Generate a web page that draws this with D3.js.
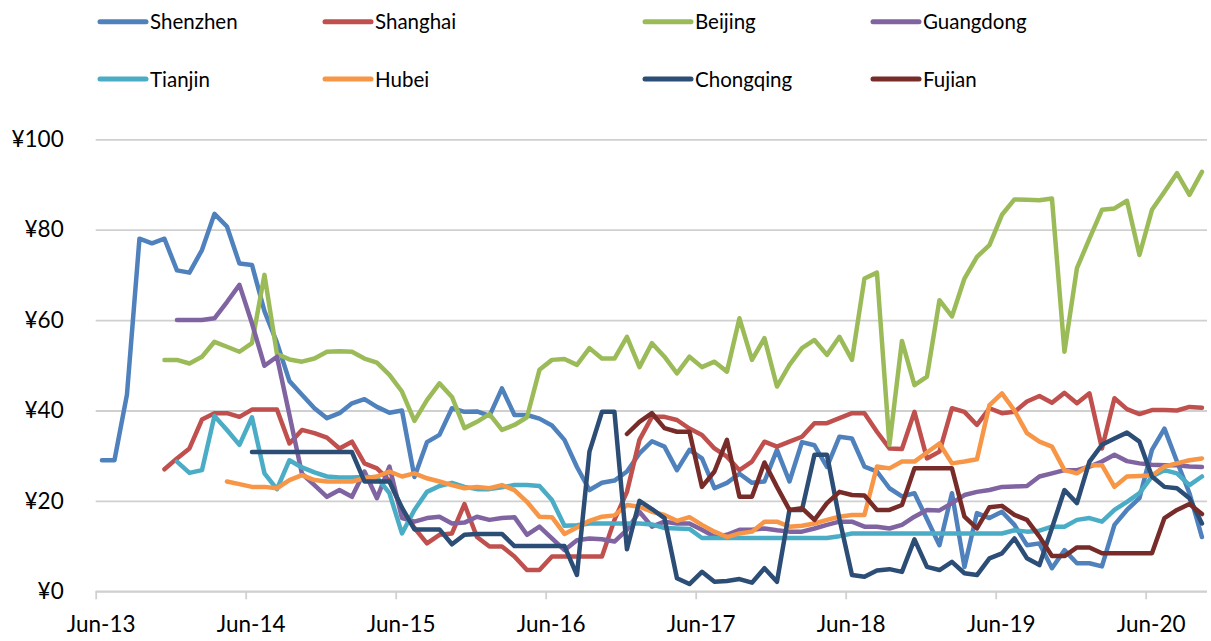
<!DOCTYPE html>
<html><head><meta charset="utf-8">
<script src="https://cdn.jsdelivr.net/npm/d3@7"></script>
<style>
body{margin:0;background:#fff}
svg{display:block}
text{font-family:Lato,"Open Sans",sans-serif;fill:#000}
</style>
</head><body>
<svg id="chart" width="1211" height="641"></svg>
<script>
const _ = null;
const seriesNames = ["Shenzhen","Shanghai","Beijing","Guangdong","Tianjin","Hubei","Chongqing","Fujian"];
const seriesColors = ["#4F81BD","#C0504D","#9BBB59","#8064A2","#4BACC6","#F79646","#2C4D75","#772C2A"];
const tickLabels = ["Jun-13","Jun-14","Jun-15","Jun-16","Jun-17","Jun-18","Jun-19","Jun-20"];
const yTicks = [0,20,40,60,80,100];
// monthly categories Jun-2013 .. Oct-2020
const months = d3.utcMonth.range(new Date(Date.UTC(2013,5,1)), new Date(Date.UTC(2020,10,1)));

const shenzhen = [29,29,43.5,78,77,78,71,70.5,75.5,83.5,
80.7,72.5,72.2,62,55,46.5,43.5,40.5,38.3,39.4,
41.6,42.5,40.8,39.5,40,25.3,33,34.6,40.5,39.7,
39.8,38.8,44.9,39,39,38.2,36.7,33.5,27.5,22.4,
24,24.5,26.5,30.5,33.2,32,26.8,31.3,29.4,22.8,
24,26,24,24.3,31.3,24.3,33,32.3,27.5,34.2,
33.8,27.6,26.5,22.8,21,21.7,16,10.2,21.7,5.4,
17.3,16.2,17.6,14.7,10.2,10.6,5.1,9.1,6.2,6.2,
5.5,14.7,18,20.6,31.3,36,28.7,21.7,12];

const shanghai = [_,_,_,_,_,27,29.4,31.6,38,39.4,
39.4,38.6,40.2,40.2,40.2,32.7,35.7,35,34,31.6,
33.1,28.3,27.2,24.5,18,14,10.6,12.5,12.8,19.3,
12,9.9,9.9,7.7,4.7,4.7,7.7,7.7,7.7,7.7,
7.7,15.8,22,33.5,38.6,38.6,37.9,36,34.6,31.6,
29.8,26.8,28.7,33.1,32,33.1,34.2,37.2,37.2,38.3,
39.4,39.4,35.3,31.6,31.5,39.7,29.4,30.9,40.5,39.7,
36.8,40.5,39.4,39.7,42,43.2,41.7,43.9,41.6,43.8,
31.6,42.7,40.3,39.2,40.1,40.1,40,40.8,40.6];

const beijing = [_,_,_,_,_,51.2,51.2,50.4,51.9,55.2,
54.1,53,54.9,70,52.5,51.3,50.8,51.5,53,53.1,
53,51.5,50.6,47.9,44.2,37.7,42.3,46,43,36.1,
37.5,39.2,35.7,36.8,38.5,49,51.2,51.4,50.1,53.8,
51.5,51.5,56.3,49.6,54.9,51.9,48.2,51.9,49.6,50.8,
48.6,60.4,51.2,56,45.3,50.1,53.8,55.6,52.3,56.3,
51.2,69.2,70.5,32.4,55.4,45.6,47.5,64.4,60.8,69.2,
74,76.6,83.3,86.7,86.6,86.5,86.9,53,71.5,78,
84.4,84.7,86.4,74.4,84.4,88.4,92.5,87.7,92.8];

const guangdong = [_,_,_,_,_,_,60,60,60,60.4,
64,67.8,59.3,49.9,51.9,39,26,23.5,20.9,22.4,
20.9,26.5,20.6,27.6,16.2,15.4,16.2,16.5,15,15.2,
16.5,15.8,16.2,16.4,12.5,14.3,11.7,9.1,11.3,11.7,
11.5,11,13.6,17.6,14.3,15.4,15,15,13.6,12.1,
12.5,13.6,13.6,13.9,13.5,13.2,13.2,13.9,14.7,15.4,
15.4,14.3,14.3,13.9,14.7,16.5,18,17.9,19.5,21.3,
22,22.4,23.1,23.2,23.3,25.4,26.1,26.8,26.8,27.6,
28.7,30.2,28.8,28.3,28,27.9,27.9,27.6,27.5];

const tianjin = [_,_,_,_,_,_,28.7,26.2,26.8,38.8,
35.7,32.4,38.5,26.1,22.6,29,27.4,26.3,25.4,25.2,
25.2,25.3,25.2,21.7,12.8,18,22,23.3,24,23.1,
22.6,22.6,23,23.5,23.5,23.3,20.2,14.5,14.6,15,
15,15,15,15,14.8,14,13.9,13.8,11.8,11.8,
11.8,11.8,11.8,11.8,11.8,11.8,11.8,11.8,11.8,12.2,
12.8,12.8,12.8,12.8,12.8,12.8,12.8,12.8,12.8,12.8,
12.8,12.8,12.8,13.5,13.2,13.4,14.3,14.3,15.8,16.2,
15.4,18,19.8,21.7,25.4,26.8,26.1,23.5,25.4];

const hubei = [_,_,_,_,_,_,_,_,_,_,
24.3,23.7,23.1,23.1,22.8,24.6,25.7,24.6,24.3,24.3,
24.3,25,25.4,26.5,25.4,26.1,25,24.3,23.5,22.8,
23.1,22.8,23.5,22.4,19.8,16.5,16.4,12.7,14.1,15.6,
16.5,16.8,19.1,18.7,17.6,16.9,15.6,16.4,14.7,13.2,
12,12.8,13.2,15.4,15.4,14.3,14.5,15,15.8,16.5,
16.9,16.9,27.6,27.2,28.7,28.7,30.7,32.7,28.3,28.7,
29.2,41.2,43.8,40,35,33.1,32,26.8,26.1,27.9,
27.9,23.1,25.4,25.5,25.6,27.6,28.3,29,29.4];

const chongqing = [_,_,_,_,_,_,_,_,_,_,
_,_,30.8,30.8,30.8,30.8,30.8,30.8,30.8,30.8,
30.8,24.3,24.3,24.3,18.5,13.7,13.7,13.7,10.4,12.5,
12.7,12.7,12.7,10,10,10,10,10,3.6,30.9,
39.7,39.7,9.3,20,18.2,16.2,2.9,1.6,4.3,2.1,
2.3,2.7,1.9,5.1,2.1,18,18,30.2,30.2,16,
3.6,3.2,4.6,4.9,4.3,11.5,5.4,4.7,6.5,4,
3.6,7.3,8.4,11.7,7.3,5.8,14,22.4,19.5,28.7,
32.4,33.8,35.1,33.1,25.4,23.1,22.8,20.6,15];

const fujian = [_,_,_,_,_,_,_,_,_,_,
_,_,_,_,_,_,_,_,_,_,
_,_,_,_,_,_,_,_,_,_,
_,_,_,_,_,_,_,_,_,_,
_,_,34.8,37.5,39.4,36.1,35.3,35.3,23.1,26.5,
33.5,20.9,20.9,28.5,23.1,18,18.4,15.8,19.5,22,
21.3,21.2,18,18,19.1,27.2,27.2,27.2,27.2,16.5,
13.9,18.6,18.9,16.9,15.8,12.1,7.8,7.8,9.7,9.7,
8.4,8.4,8.4,8.4,8.4,16.2,18,19.3,17.1];

const seriesValues = [shenzhen,shanghai,beijing,guangdong,tianjin,hubei,chongqing,fujian];

const svg = d3.select("#chart");
svg.append("rect").attr("width",1211).attr("height",641).attr("fill","#fff");

const plotLeft = 95.7, plotRight = 1208.2, plotBottom = 591.3, plotTop = 139.3;
const x = d3.scaleLinear().domain([0, months.length]).range([plotLeft, plotRight]);
const y = d3.scaleLinear().domain([0, 100]).range([plotBottom, plotTop]);

// gridlines + y labels
const yAxis = d3.axisLeft(y).tickValues(yTicks).tickSize(-(1207 - plotLeft)).tickPadding(32)
  .tickFormat(d => "¥" + d);
const gy = svg.append("g").attr("transform", `translate(${plotLeft},0)`).call(yAxis);
gy.select(".domain").remove();
gy.selectAll("line").attr("stroke", "#d0d0d0").attr("stroke-width", 1.8);
gy.selectAll("text").attr("font-size", 22.5).attr("font-family", "Lato").attr("fill","#000");

// x axis
const junIdx = tickLabels.map((t, i) => i * 12);
const xAxis = d3.axisBottom(x).tickValues(junIdx).tickSize(8).tickSizeOuter(0).tickPadding(17)
  .tickFormat((d, i) => tickLabels[i]);
const gx = svg.append("g").attr("transform", `translate(0,${plotBottom})`).call(xAxis);
gx.select(".domain").attr("stroke", "#d0d0d0").attr("stroke-width", 1.8).attr("d", `M${plotLeft},0H1207`);
gx.selectAll("line").attr("stroke", "#d0d0d0").attr("stroke-width", 1.8);
gx.selectAll("text").attr("font-size", 22.5).attr("font-family", "Lato").attr("fill","#000").attr("x", 5);

// series lines
const line = d3.line()
  .defined(d => d.v != null)
  .x(d => x(d.i + 0.5))
  .y(d => y(d.v));

seriesValues.forEach((vals, k) => {
  svg.append("path")
    .datum(vals.map((v, i) => ({i, v})))
    .attr("fill", "none")
    .attr("stroke", seriesColors[k])
    .attr("stroke-width", 4.5)
    .attr("stroke-linejoin", "round")
    .attr("stroke-linecap", "round")
    .attr("d", line);
});

// legend
const legCols = [100, 325, 645, 873];
const legRows = [21.7, 79];
const leg = svg.append("g");
seriesNames.forEach((name, k) => {
  const lx = legCols[k % 4], ly = legRows[Math.floor(k / 4)];
  leg.append("line").attr("x1", lx).attr("x2", lx + 46).attr("y1", ly).attr("y2", ly)
    .attr("stroke", seriesColors[k]).attr("stroke-width", 5).attr("stroke-linecap", "round");
  leg.append("text").attr("x", lx + 50).attr("y", ly + 7.5).attr("font-size", 20.5).text(name);
});
</script>
</body></html>
